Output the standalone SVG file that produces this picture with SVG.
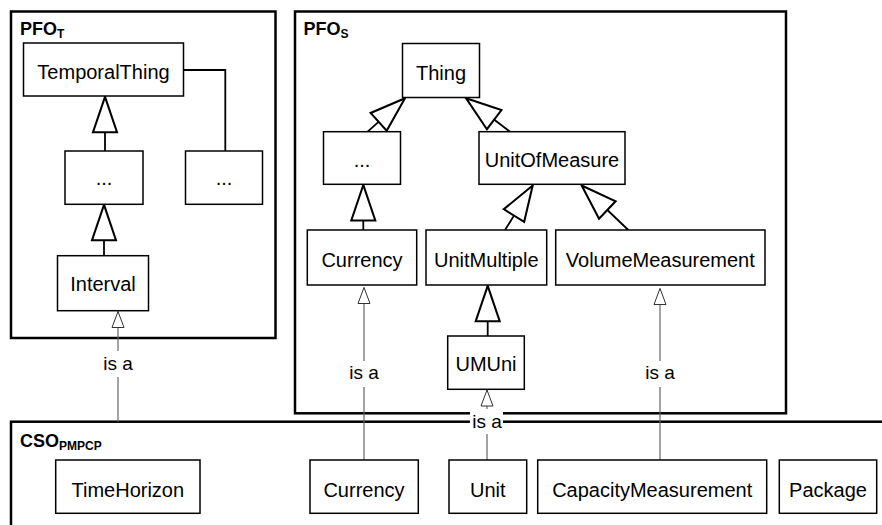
<svg xmlns="http://www.w3.org/2000/svg" width="882" height="525" viewBox="0 0 882 525">
<style>
.frame{fill:none;stroke:#000;stroke-width:2.5}
.box{fill:#fff;stroke:#000;stroke-width:1.5}
.t{font-family:"Liberation Sans",Arial,sans-serif;font-size:20px;fill:#000;text-anchor:middle}
.title{font-family:"Liberation Sans",Arial,sans-serif;font-size:18px;font-weight:bold;fill:#000}
.sub{font-family:"Liberation Sans",Arial,sans-serif;font-size:12px;font-weight:bold;fill:#000}
.gen{fill:none;stroke:#000;stroke-width:1.8;marker-end:url(#gen)}
.plain{fill:none;stroke:#000;stroke-width:1.8}
.isa{fill:none;stroke:#666;stroke-width:1.2;marker-end:url(#isa)}
.lbl{font-family:"Liberation Sans",Arial,sans-serif;font-size:19px;fill:#000;text-anchor:middle}
.lblbg{fill:#fff;stroke:none}
</style>
<defs>
<marker id="gen" markerUnits="userSpaceOnUse" markerWidth="40" markerHeight="30" viewBox="-33 -13 35 26" refX="0" refY="0" orient="auto" overflow="visible">
<path d="M0,0 L-31,-10.5 L-31,10.5 Z" fill="#fff" stroke="#000" stroke-width="1.8"/>
</marker>
<marker id="isa" markerUnits="userSpaceOnUse" markerWidth="20" markerHeight="16" viewBox="-18 -8 20 16" refX="0" refY="0" orient="auto" overflow="visible">
<path d="M0,0 L-16,-6 L-16,6 Z" fill="#fff" stroke="#333" stroke-width="1"/>
</marker>
</defs>

<g id="frames">
<g id="PFO_T">
<rect class="frame" x="11" y="11.5" width="264.5" height="326.5"/>
<text class="title" x="20" y="35">PFO<tspan class="sub" dy="3">T</tspan></text>
</g>
<g id="PFO_S">
<rect class="frame" x="295" y="11.5" width="491" height="401.8"/>
<text class="title" x="303.5" y="35">PFO<tspan class="sub" dy="3">S</tspan></text>
</g>
<g id="CSO_PMPCP">
<rect class="frame" x="11" y="421.7" width="900" height="200"/>
<text class="title" x="20" y="446.5">CSO<tspan class="sub" dy="3">PMPCP</tspan></text>
</g>
</g>

<g id="connectors">
<path class="gen" d="M105,151 L105,96.8"/>
<path class="gen" d="M104,255.7 L104,204.8"/>
<path class="plain" d="M184,70 H225.3 V151"/>
<path class="gen" d="M367.7,131.7 L405,98.2"/>
<path class="gen" d="M510,131.7 L466,98.2"/>
<path class="gen" d="M363.3,230 L363.3,185"/>
<path class="gen" d="M505,230 L532.7,185.5"/>
<path class="gen" d="M628.3,230 L581.7,185.5"/>
<path class="gen" d="M487.7,336 L487.7,285.8"/>
<path class="isa" d="M118,421.7 V311.5"/>
<path class="isa" d="M364,460 V287.5"/>
<path class="isa" d="M487,460 V390"/>
<path class="isa" d="M660,460 V288.5"/>
<g id="labels">
<rect class="lblbg" x="101" y="351" width="34" height="26"/>
<text class="lbl" x="118" y="370">is a</text>
<rect class="lblbg" x="347" y="361" width="34" height="26"/>
<text class="lbl" x="364" y="378.5">is a</text>
<rect class="lblbg" x="643" y="361" width="34" height="26"/>
<text class="lbl" x="660" y="378.5">is a</text>
<rect class="lblbg" x="470" y="409" width="33" height="25"/>
<text class="lbl" x="487" y="428.3">is a</text>
</g>
</g>

<g id="TemporalThing"><rect class="box" x="23.5" y="43" width="160" height="53"/><text class="t" x="103.5" y="79">TemporalThing</text></g>
<g id="DotsT1"><rect class="box" x="65" y="151" width="78" height="53.3"/><text class="t" x="104" y="185">...</text></g>
<g id="DotsT2"><rect class="box" x="185.5" y="151" width="77" height="53.3"/><text class="t" x="224" y="185">...</text></g>
<g id="Interval"><rect class="box" x="57.5" y="255.7" width="91" height="55"/><text class="t" x="103" y="290.5">Interval</text></g>

<g id="Thing"><rect class="box" x="402.5" y="43.5" width="77" height="54"/><text class="t" x="441" y="80">Thing</text></g>
<g id="DotsS"><rect class="box" x="323.5" y="131.7" width="77" height="52.6"/><text class="t" x="362" y="166.5">...</text></g>
<g id="UnitOfMeasure"><rect class="box" x="479" y="131.7" width="146" height="52.6"/><text class="t" x="552" y="166.5">UnitOfMeasure</text></g>
<g id="CurrencyS"><rect class="box" x="307.3" y="230" width="109.4" height="55"/><text class="t" x="362" y="266.5">Currency</text></g>
<g id="UnitMultiple"><rect class="box" x="426" y="230" width="120.7" height="55"/><text class="t" x="486.3" y="266.5">UnitMultiple</text></g>
<g id="VolumeMeasurement"><rect class="box" x="555.7" y="230" width="209.3" height="55"/><text class="t" x="660.3" y="266.5">VolumeMeasurement</text></g>
<g id="UMUni"><rect class="box" x="447.7" y="336" width="76.6" height="53.3"/><text class="t" x="486" y="371">UMUni</text></g>

<g id="TimeHorizon"><rect class="box" x="55.7" y="460" width="144.3" height="53.3"/><text class="t" x="127.8" y="496.5">TimeHorizon</text></g>
<g id="CurrencyC"><rect class="box" x="310" y="460" width="108.3" height="53.3"/><text class="t" x="364" y="496.5">Currency</text></g>
<g id="Unit"><rect class="box" x="449" y="460" width="77.7" height="53.3"/><text class="t" x="487.8" y="496.5">Unit</text></g>
<g id="CapacityMeasurement"><rect class="box" x="537.7" y="460" width="229" height="53.3"/><text class="t" x="652.2" y="496.5">CapacityMeasurement</text></g>
<g id="Package"><rect class="box" x="779.3" y="460" width="97.4" height="53.3"/><text class="t" x="828" y="496.5">Package</text></g>
</svg>
